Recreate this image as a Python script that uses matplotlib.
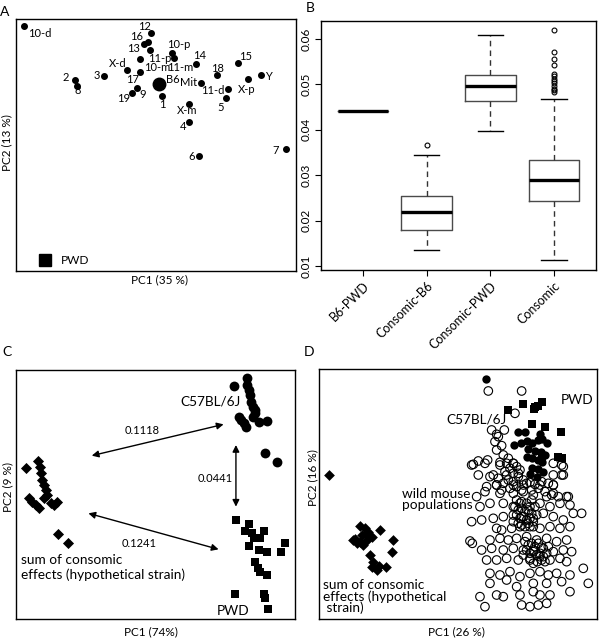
import matplotlib
matplotlib.use('Agg')
import matplotlib.pyplot as plt
from matplotlib.lines import Line2D

plt.rcParams['font.family'] = ['Lato', 'DejaVu Sans']

# ---------------- Panel A data (PCA of consomic strains) ----------------
A_names = ['10-d', '12', '16', '13', '10-m', '10-p', '11-m', '11-p', '14', '15',
           'X-d', '17', '18', 'Y', 'X-p', '2', '8', '3', 'Mit', '11-d',
           '9', '19', '1', '5', 'X-m', '4', '6', '7']
A_pc1 = [24, 404, 396, 385, 402, 467, 475, 372, 539, 665,
         333, 372, 604, 735, 696, 177, 184, 263, 554, 635,
         362, 347, 437, 629, 520, 518, 549, 809]
A_pc2 = [734, 714, 687, 680, 662, 653, 637, 635, 619, 623,
         603, 596, 588, 586, 575, 572, 554, 584, 562, 544,
         548, 534, 525, 517, 499, 445, 345, 366]
A_b6 = ('B6', 430, 560)
A_label_pos = {
    '10-d': (70, 713), '12': (385, 733), '16': (362, 703), '13': (354, 667),
    '10-m': (423, 609), '10-p': (487, 678), '11-m': (494, 609), '11-p': (432, 638),
    '14': (552, 645), '15': (690, 643), 'X-d': (305, 623), '17': (350, 573),
    '18': (604, 608), 'Y': (757, 584), 'X-p': (692, 545), '2': (148, 581),
    '8': (184, 541), '3': (241, 585), 'Mit': (518, 566), '11-d': (589, 541),
    '9': (380, 528), '19': (322, 516), '1': (440, 498), '5': (614, 490),
    'X-m': (512, 480), '4': (501, 433), '6': (526, 344), '7': (780, 361),
    'B6': (471, 575),
}

# ---------------- Panel B data (distance boxplots) ----------------
B_categories = ['B6-PWD', 'Consomic-B6', 'Consomic-PWD', 'Consomic']
B_med = [0.0442, 0.0219, 0.0497, 0.0289]
B_q1 = [0.0442, 0.0179, 0.0463, 0.0244]
B_q3 = [0.0442, 0.0254, 0.0522, 0.0334]
B_whislo = [0.0442, 0.0134, 0.0397, 0.0112]
B_whishi = [0.0442, 0.0344, 0.0610, 0.0468]
B_fliers = [[], [0.0366], [],
            [0.0621, 0.0571, 0.0557, 0.0542, 0.0523, 0.0519, 0.0513,
             0.0507, 0.0503, 0.0497, 0.0491, 0.0487, 0.0483]]
B_yticks = [0.01, 0.02, 0.03, 0.04, 0.05, 0.06]

# ---------------- Panel C data ----------------
C_b6_pc1 = [740, 700, 740, 745, 748, 753, 757, 763, 765, 757, 715, 723, 730, 737, 777, 800, 795, 830]
C_b6_pc2 = [245, 222, 225, 210, 195, 175, 160, 150, 140, 130, 130, 120, 110, 100, 115, 118, 20, -5]
C_pwd_pc1 = [707, 745, 733, 755, 790, 760, 780, 745, 775, 800, 853, 843, 765, 773, 780, 800, 705, 790, 795, 803]
C_pwd_pc2 = [-180, -192, -212, -220, -212, -235, -235, -258, -270, -275, -250, -275, -305, -325, -335, -345, -402, -402, -415, -448]
C_sum_pc1 = [77, 114, 120, 124, 127, 132, 137, 142, 87, 97, 107, 117, 132, 152, 172, 162, 175, 205]
C_sum_pc2 = [-25, -2, -20, -40, -60, -75, -90, -105, -115, -125, -135, -145, -115, -130, -125, -135, -222, -248]
C_distances = [0.1118, 0.0441, 0.1241]

# ---------------- Panel D data ----------------
D_wild_pc1 = [
    565, 665, 645, 575, 590, 613, 595, 585, 605, 590, 610, 625, 563, 520, 535, 600, 620, 640, 630, 650,
    615, 640, 660, 580, 595, 610, 625, 640, 655, 670, 590, 605, 630, 650, 670, 690, 705, 725, 745, 760,
    785, 785, 665, 695, 715, 735, 755, 775, 805,
    515, 555, 600, 640, 760, 790,
    535, 570, 620, 655, 700, 760, 790,
    560, 590, 640, 680, 720, 760,
    530, 555, 600, 640, 670, 700, 740, 760, 800,
    540, 570, 610, 640, 660, 690, 720, 750, 780, 810,
    515, 545, 580, 610, 640, 665, 700, 730, 760, 790, 820, 845,
    590, 605, 635, 660, 690, 720, 750, 780, 810,
    510, 517, 570, 600, 625, 650, 680, 710, 740, 770, 800,
    545, 575, 610, 640, 670, 700, 730, 760, 790, 815,
    560, 590, 620, 655, 690, 720, 750, 780, 800,
    570, 600, 630, 660, 690, 720, 745, 770, 810, 850,
    570, 620, 650, 700, 740, 785, 865,
    540, 590, 610, 660, 700, 720, 750, 810,
    555, 665, 690, 715, 740,
    645, 655, 665, 675, 685, 695, 650, 660, 670, 680, 690, 700, 655, 665, 675, 685, 650, 665, 680, 695,
    705, 640, 700, 710,
    675, 685, 695, 705, 715, 725, 680, 690, 700, 710, 720, 730, 690, 700, 712, 725, 740, 745, 670, 735]
D_wild_pc2 = [
    207, 207, 140, 90, 77, 90, 70, 55, 43, 30, 15, 5, 0, -13, -3, -7, -10, -10, -25, -20,
    -35, -40, -30, -45, -55, -70, -60, -65, -50, -60, -75, -90, -85, -80, -75, -67, -73, -65, -70, -75,
    -15, -45, -90, -90, -85, -95, -105, -110, -110,
    -15, -10, -15, -10, -10, -20,
    -45, -50, -45, -40, -45, -45, -45,
    -80, -75, -75, -70, -75, -75,
    -110, -95, -100, -100, -95, -105, -110, -100, -110,
    -140, -130, -130, -140, -130, -140, -130, -140, -130, -135,
    -185, -180, -175, -170, -165, -170, -175, -160, -170, -180, -160, -160,
    -205, -210, -205, -200, -200, -205, -200, -205, -200,
    -243, -250, -240, -235, -240, -235, -230, -240, -235, -245, -240,
    -270, -265, -270, -265, -270, -270, -265, -275, -270, -275,
    -300, -300, -295, -300, -295, -290, -300, -295, -305,
    -340, -345, -335, -350, -340, -335, -345, -340, -345, -325,
    -370, -360, -380, -370, -370, -365, -370,
    -410, -405, -410, -405, -395, -405, -405, -395,
    -440, -435, -440, -435, -430,
    -140, -150, -145, -155, -150, -160, -165, -175, -170, -180, -175, -185, -190, -195, -200, -190, -120, -125, -130, -120,
    -140, -185, -200, -165,
    -245, -255, -250, -260, -250, -262, -270, -280, -275, -285, -280, -290, -300, -310, -305, -300, -280, -260, -285, -305]
D_b6_pc1 = [558, 653, 675, 643, 663, 680, 697, 720, 713, 727, 740, 685, 705, 723, 735, 680, 697, 715, 725, 695, 713, 730, 690, 710]
D_b6_pc2 = [243, 85, 83, 45, 50, 57, 50, 77, 60, 62, 50, 33, 27, 23, 15, 10, 7, 0, -7, -25, -28, -35, -43, -50]
D_pwd_pc1 = [625, 670, 705, 727, 703, 713, 695, 735, 783, 727, 775, 787]
D_pwd_pc2 = [150, 167, 160, 175, 153, 163, 107, 100, 85, 10, 10, 7]
D_sum_pc1 = [88, 180, 195, 205, 165, 180, 190, 200, 215, 240, 280, 210, 275, 220, 238, 258, 215, 230, 185, 205, 172, 160]
D_sum_pc2 = [-45, -198, -205, -215, -238, -245, -255, -240, -232, -210, -240, -285, -275, -305, -318, -322, -322, -330, -225, -228, -250, -240]

# ---------------- figure ----------------
W, H = 600, 639
fig = plt.figure(figsize=(W / 100, H / 100), dpi=100)


def rect(x0, y0, x1, y1):
    return [x0 / W, 1 - y1 / H, (x1 - x0) / W, (y1 - y0) / H]


def plain_axes(ax, xlim, ylim):
    ax.set_xlim(*xlim)
    ax.set_ylim(*ylim)
    ax.set_xticks([])
    ax.set_yticks([])
    for s in ax.spines.values():
        s.set_linewidth(1.0)
        s.set_color('black')


def place_labels(ax, xl, yl, xpos, ypos, fs):
    ax.set_xlabel(xl, fontsize=fs)
    ax.set_ylabel(yl, fontsize=fs)
    ax.xaxis.set_label_coords(*xpos)
    ax.yaxis.set_label_coords(*ypos)
    ax.xaxis.label.set_verticalalignment('center')
    ax.yaxis.label.set_verticalalignment('center')


TXT = 9.8      # annotation text size
AX = 8.5       # axis title size

# ---- Panel A ----
axA = fig.add_axes(rect(16, 19, 296, 271))
plain_axes(axA, (0, 840), (0, 755))
axA.plot(A_pc1, A_pc2, 'o', color='black', ms=4.0, ls='none')
axA.plot([A_b6[1]], [A_b6[2]], 'o', color='black', ms=9)
for n in A_names + ['B6']:
    lx, ly = A_label_pos[n]
    axA.text(lx, ly, n, fontsize=8.0, ha='center', va='center')
leg = axA.legend(handles=[Line2D([], [], marker='s', ls='none', color='black', ms=8.6, label='PWD')],
                 loc='center left', bbox_to_anchor=(0.084, 0.041), frameon=False,
                 handlelength=1.0, handletextpad=0.75, borderpad=0, borderaxespad=0, fontsize=8.6)
place_labels(axA, 'PC1 (35 %)', 'PC2 (13 %)', (0.514, -0.036), (-0.032, 0.508), AX)

# ---- Panel B ----
axB = fig.add_axes(rect(321, 21, 596, 270))
stats = []
for i, c in enumerate(B_categories):
    stats.append(dict(label=c, med=B_med[i], q1=B_q1[i], q3=B_q3[i],
                      whislo=B_whislo[i], whishi=B_whishi[i], fliers=B_fliers[i]))
axB.bxp(stats, positions=[1, 2, 3, 4], widths=0.8, capwidths=0.4,
        boxprops=dict(color='#4a4a4a', lw=1.0),
        whiskerprops=dict(color='#333333', lw=1.0, linestyle=(0, (4, 3))),
        capprops=dict(color='black', lw=1.0),
        medianprops=dict(color='black', lw=2.4, solid_capstyle='butt'),
        flierprops=dict(marker='o', mfc='none', mec='black', ms=3.5, mew=0.8))
axB.set_xlim(0.34, 4.66)
axB.set_ylim(0.0091, 0.0640)
axB.set_yticks(B_yticks)
axB.set_yticklabels(['%.2f' % v for v in B_yticks], rotation=90, va='center', fontsize=8.5)
axB.set_xticks([1, 2, 3, 4])
axB.set_xticklabels(B_categories, rotation=45, ha='right', rotation_mode='anchor', fontsize=9)
axB.tick_params(direction='out', length=4, width=0.8, pad=3)
for s in axB.spines.values():
    s.set_linewidth(1.0)

# ---- Panel C ----
axC = fig.add_axes(rect(16, 370, 295, 619))
plain_axes(axC, (48, 884), (-477, 270))
axC.scatter(C_sum_pc1, C_sum_pc2, marker='D', s=32, color='black', lw=0)
axC.scatter(C_b6_pc1, C_b6_pc2, marker='o', s=50, color='black', lw=0)
axC.scatter(C_pwd_pc1, C_pwd_pc2, marker='s', s=34, color='black', lw=0)
arrow_kw = dict(arrowstyle='<|-|>', color='black', lw=1.0, mutation_scale=10, shrinkA=0, shrinkB=0)
axC.annotate('', xy=(670, 107), xytext=(275, 13), arrowprops=arrow_kw)
axC.annotate('', xy=(707, 45), xytext=(707, -140), arrowprops=arrow_kw)
axC.annotate('', xy=(655, -268), xytext=(265, -160), arrowprops=arrow_kw)
axC.text(425, 88, '%.4f' % C_distances[0], fontsize=8, ha='center', va='center')
axC.text(697, -55, '%.4f' % C_distances[1], fontsize=8, ha='right', va='center')
axC.text(418, -250, '%.4f' % C_distances[2], fontsize=8, ha='center', va='center')
axC.text(632, 175, 'C57BL/6J', fontsize=TXT, ha='center', va='center')
axC.text(697, -453, 'PWD', fontsize=TXT, ha='center', va='center')
axC.text(62, -323, 'sum of consomic\neffects (hypothetical strain)', fontsize=TXT,
         ha='left', va='center', linespacing=1.25)
place_labels(axC, 'PC1 (74%)', 'PC2 (9 %)', (0.484, -0.051), (-0.029, 0.53), AX)

# ---- Panel D ----
axD = fig.add_axes(rect(319.3, 369.3, 597.3, 619))
plain_axes(axD, (58, 892), (-477, 272))
axD.scatter(D_wild_pc1, D_wild_pc2, marker='o', s=38, facecolors='none', edgecolors='black', lw=0.8)
axD.scatter(D_b6_pc1, D_b6_pc2, marker='o', s=36, color='black', lw=0)
axD.scatter(D_pwd_pc1, D_pwd_pc2, marker='s', s=32, color='black', lw=0)
axD.scatter(D_sum_pc1, D_sum_pc2, marker='D', s=30, color='black', lw=0)
axD.text(530, 120, 'C57BL/6J', fontsize=TXT, ha='center', va='center')
axD.text(832, 180, 'PWD', fontsize=TXT, ha='center', va='center')
axD.text(305, -119, 'wild mouse\npopulations', fontsize=TXT, ha='left', va='center', linespacing=0.95)
axD.text(70, -410, 'sum of consomic\neffects (hypothetical\n strain)', fontsize=TXT,
         ha='left', va='center', linespacing=0.92)
place_labels(axD, 'PC1 (26 %)', 'PC2 (16 %)', (0.495, -0.052), (-0.024, 0.565), AX)

# panel letters
for letter, (px, py) in zip('ABCD', [(4.5, 11.7), (310, 8), (7, 352), (309, 352)]):
    fig.text(px / W, 1 - py / H, letter, fontsize=10, ha='center', va='center')

fig.savefig('out.png', dpi=100)
